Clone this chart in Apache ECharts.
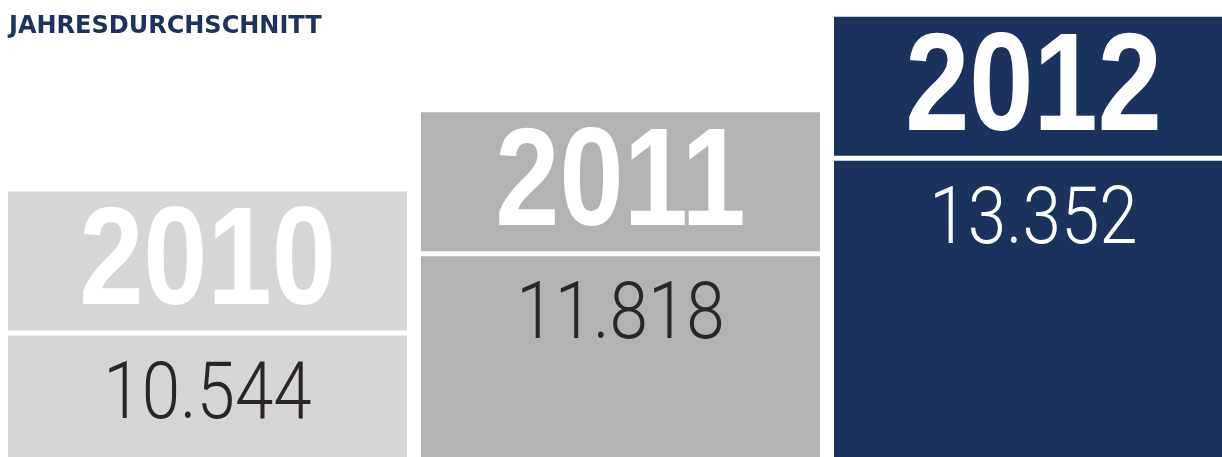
<!DOCTYPE html>
<html>
<head>
<meta charset="utf-8">
<script src="https://cdn.jsdelivr.net/npm/echarts@6/dist/echarts.min.js"></script>
<style>html,body{margin:0;padding:0;background:#fff;}#c{width:1222px;height:457px;}</style>
</head>
<body>
<div id="c"></div>
<script>
const titleText = 'JAHRESDURCHSCHNITT';
const categories = ['2010', '2011', '2012'];
const values = [10544, 11818, 13352];
const barColors = ['#d6d6d6', '#b3b3b3', '#1b315e'];
const valueColors = ['#2b2623', '#2b2623', '#ffffff'];
const yMin = 6280;
const yMax = 13620;

function fmt(v) {
  return String(v).replace(/\B(?=(\d{3})+(?!\d))/g, '.');
}

const chart = echarts.init(document.getElementById('c'), null, {renderer: 'canvas'});
chart.setOption({
  animation: false,
  backgroundColor: '#ffffff',
  title: {
    text: titleText,
    left: 4,
    top: 10,
    textStyle: {fontFamily: 'DejaVu Sans', fontWeight: 'bold', fontSize: 24, color: '#1c3360'}
  },
  grid: {left: 1, top: 0, width: 1239, bottom: 0, outerBoundsMode: 'none', containLabel: false},
  xAxis: {type: 'category', data: categories, show: false},
  yAxis: {type: 'value', min: yMin, max: yMax, show: false},
  series: [{
    type: 'custom',
    clip: false,
    data: values.map((v, i) => [i, v]),
    encode: {x: 0, y: 1},
    renderItem: function (params, api) {
      const i = api.value(0);
      const v = api.value(1);
      const top = api.coord([i, v]);
      const base = api.coord([i, yMin]);
      const band = api.size([1, 0])[0];
      const bw = band - 14;
      const x0 = top[0] - bw / 2;
      const y0 = top[1];
      return {
        type: 'group',
        children: [
          {type: 'rect', shape: {x: x0, y: y0, width: bw, height: base[1] - y0}, style: {fill: barColors[i]}},
          {type: 'rect', shape: {x: x0, y: y0 + 139, width: bw, height: 5}, style: {fill: '#ffffff'}},
          {type: 'text', x: top[0], y: y0 + 74.5, scaleX: 0.83,
            style: {text: categories[i], x: 0, y: 0, fill: '#ffffff', fontFamily: 'Liberation Sans', fontWeight: 'bold', fontSize: 139, align: 'center', verticalAlign: 'middle'}},
          {type: 'text', x: top[0], y: y0 + 206, scaleX: 0.865,
            style: {text: fmt(v), x: 0, y: 0, fill: valueColors[i], fontFamily: 'Roboto', fontWeight: 300, fontSize: 80, align: 'center', verticalAlign: 'middle'}}
        ]
      };
    }
  }]
});
</script>
</body>
</html>
